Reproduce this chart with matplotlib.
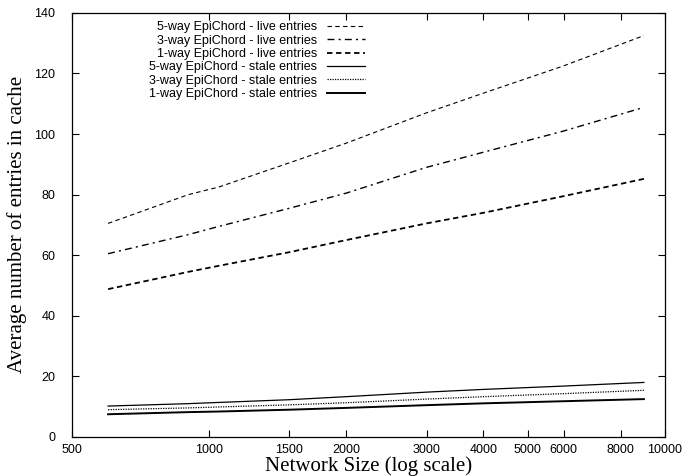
import numpy as np
import matplotlib
matplotlib.use("Agg")
import matplotlib.pyplot as plt

# network sizes (log scale on x)
sizes = [600, 900, 1050, 1500, 2000, 3000, 4000, 6000, 9000]

# average number of live entries in cache
live_5way = [70.5, 80.0, 82.5, 90.5, 97.0, 107.0, 113.5, 122.5, 132.5]
live_3way = [60.5, 66.8, 69.5, 75.5, 80.5, 89.0, 94.0, 101.0, 108.8]
live_1way = [48.8, 54.5, 56.5, 61.0, 65.0, 70.5, 74.0, 79.5, 85.2]

# average number of stale entries in cache
stale_5way = [10.2, 11.0, 11.4, 12.3, 13.3, 14.8, 15.7, 16.8, 18.0]
stale_3way = [9.0, 9.6, 9.9, 10.6, 11.3, 12.5, 13.3, 14.3, 15.4]
stale_1way = [7.5, 8.2, 8.4, 9.0, 9.6, 10.5, 11.1, 11.8, 12.5]

xticks = [500, 1000, 1500, 2000, 3000, 4000, 5000, 6000, 8000, 10000]
yticks = [0, 20, 40, 60, 80, 100, 120, 140]

plt.rcParams['font.family'] = ['Liberation Sans', 'DejaVu Sans']

fig = plt.figure(figsize=(6.86, 4.76), dpi=100)
ax = fig.add_axes([0.105, 0.082, 0.864, 0.891])

ax.plot(sizes, live_5way, color='black', lw=0.8, ls=(0, (4, 3)),
        label='5-way EpiChord - live entries')
ax.plot(sizes, live_3way, color='black', lw=1.0, ls=(0, (5, 3, 1.5, 3)),
        label='3-way EpiChord - live entries')
ax.plot(sizes, live_1way, color='black', lw=1.3, ls=(0, (3, 2)),
        label='1-way EpiChord - live entries')
ax.plot(sizes, stale_5way, color='black', lw=0.9, ls='-',
        label='5-way EpiChord - stale entries')
ax.plot(sizes, stale_3way, color='black', lw=0.9, ls=(0, (1, 1)),
        label='3-way EpiChord - stale entries')
ax.plot(sizes, stale_1way, color='black', lw=1.4, ls='-',
        label='1-way EpiChord - stale entries')

ax.set_xscale('log')
ax.set_xlim(500, 10000)
ax.set_ylim(0, 140)
ax.set_xticks(xticks)
ax.set_xticklabels([str(t) for t in xticks])
ax.xaxis.set_minor_locator(matplotlib.ticker.NullLocator())
ax.set_yticks(yticks)

ax.tick_params(axis='both', which='major', direction='in', length=5,
               width=0.8, labelsize=9, top=True, right=True)
ax.tick_params(axis='y', pad=12)
ax.tick_params(axis='x', pad=5)
for s in ax.spines.values():
    s.set_linewidth(0.9)

ax.set_xlabel('Network Size (log scale)', family='Liberation Serif',
              fontsize=15, labelpad=0)
ax.set_ylabel('Average number of entries in cache', family='Liberation Serif',
              fontsize=15, labelpad=5)

ax.legend(loc='upper right', bbox_to_anchor=(0.494, 0.98), frameon=False,
          markerfirst=False, fontsize=9, handlelength=3.0, handletextpad=0.8,
          labelspacing=0.11, borderpad=0, borderaxespad=0)

plt.savefig('out.png', dpi=100)
